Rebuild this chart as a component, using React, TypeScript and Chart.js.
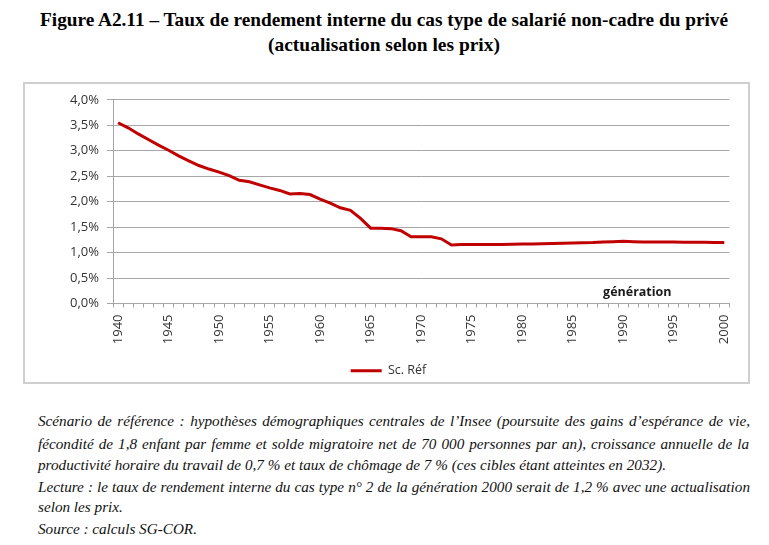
import React, { useEffect, useLayoutEffect, useRef, useState } from "react";
import { Chart, registerables } from "chart.js";

Chart.register(...registerables);

const years: string[] = [
  "1940","1941","1942","1943","1944","1945","1946","1947","1948","1949",
  "1950","1951","1952","1953","1954","1955","1956","1957","1958","1959",
  "1960","1961","1962","1963","1964","1965","1966","1967","1968","1969",
  "1970","1971","1972","1973","1974","1975","1976","1977","1978","1979",
  "1980","1981","1982","1983","1984","1985","1986","1987","1988","1989",
  "1990","1991","1992","1993","1994","1995","1996","1997","1998","1999",
  "2000",
];

const scRef: number[] = [
  3.55, 3.45, 3.33, 3.22, 3.11, 3.01, 2.90, 2.80, 2.71, 2.64,
  2.58, 2.51, 2.42, 2.39, 2.33, 2.27, 2.22, 2.15, 2.16, 2.14,
  2.05, 1.97, 1.88, 1.83, 1.67, 1.48, 1.48, 1.47, 1.43, 1.31,
  1.31, 1.31, 1.27, 1.15, 1.16, 1.16, 1.16, 1.16, 1.16, 1.165,
  1.17, 1.17, 1.175, 1.18, 1.185, 1.19, 1.195, 1.20, 1.21, 1.215,
  1.22, 1.215, 1.21, 1.21, 1.21, 1.21, 1.205, 1.205, 1.205, 1.20,
  1.20,
];

const seriesName = "Sc. Réf";
const axisTitle = "génération";

const titleLines = [
  "Figure A2.11 – Taux de rendement interne du cas type de salarié non-cadre du privé",
  "(actualisation selon les prix)",
];

const noteLines = [
  "Scénario de référence : hypothèses démographiques centrales de l’Insee (poursuite des gains d’espérance de vie,",
  "fécondité de 1,8 enfant par femme et solde migratoire net de 70 000 personnes par an), croissance annuelle de la",
  "productivité horaire du travail de 0,7 % et taux de chômage de 7 % (ces cibles étant atteintes en 2032).",
  "Lecture : le taux de rendement interne du cas type n° 2 de la génération 2000 serait de 1,2 % avec une actualisation",
  "selon les prix.",
  "Source : calculs SG-COR.",
];

type FitProps = {
  text: string;
  left: number;
  top: number;
  width: number;
  style: React.CSSProperties;
};

function FitLine({ text, left, top, width, style }: FitProps) {
  const ref = useRef<HTMLSpanElement>(null);
  const [scale, setScale] = useState(1);
  useLayoutEffect(() => {
    if (ref.current) {
      const w = ref.current.getBoundingClientRect().width;
      if (w > 0) setScale(width / w);
    }
  }, [text, width]);
  return (
    <span
      ref={ref}
      style={{
        position: "absolute",
        left,
        top,
        whiteSpace: "nowrap",
        transformOrigin: "0 0",
        transform: `scaleX(${scale})`,
        ...style,
      }}
    >
      {text}
    </span>
  );
}

function NoteBlock({ style }: { style: React.CSSProperties }) {
  const refs = useRef<(HTMLSpanElement | null)[]>([]);
  const left = 38;
  const tops = [412, 435, 456, 478, 498, 520];
  const targets = [712, 711, 0, 712, 0, 0];
  const refLine = 2;
  const refWidth = 628;
  const [layout, setLayout] = useState<{ s: number; ws: number[] }>({ s: 1, ws: [0, 0, 0, 0, 0, 0] });
  useLayoutEffect(() => {
    const nat = refs.current.map((el) => (el ? el.getBoundingClientRect().width : 0));
    const s = refWidth / nat[refLine];
    const ws = noteLines.map((t, i) => {
      if (!targets[i]) return 0;
      const spaces = (t.match(/ /g) || []).length;
      return (targets[i] / s - nat[i]) / spaces;
    });
    setLayout({ s, ws });
  }, []);
  return (
    <>
      {noteLines.map((t, i) => (
        <span
          key={i}
          ref={(el) => {
            refs.current[i] = el;
          }}
          style={{
            position: "absolute",
            left,
            top: tops[i],
            whiteSpace: "pre",
            transformOrigin: "0 0",
            transform: `scaleX(${layout.s})`,
            wordSpacing: layout.ws[i] ? `${layout.ws[i]}px` : undefined,
            ...style,
          }}
        >
          {t}
        </span>
      ))}
    </>
  );
}

const axisTitlePlugin = {
  id: "axisTitleInside",
  afterDraw(chart: any) {
    const { ctx, chartArea } = chart;
    ctx.save();
    ctx.font = 'bold 12.5px "Open Sans"';
    ctx.fillStyle = "#1a1a1a";
    ctx.textAlign = "center";
    ctx.textBaseline = "middle";
    ctx.fillText(axisTitle, chartArea.right - 92, chartArea.bottom - 11);
    ctx.restore();
  },
};

function LineChart() {
  const canvasRef = useRef<HTMLCanvasElement>(null);
  useEffect(() => {
    if (!canvasRef.current) return;
    Chart.defaults.font.family = '"Open Sans", sans-serif';
    const gridColor = "#a6a6a6";
    const chart = new Chart(canvasRef.current, {
      type: "line",
      data: {
        labels: years,
        datasets: [
          {
            label: seriesName,
            data: scRef,
            borderColor: "#c00000",
            backgroundColor: "#c00000",
            borderWidth: 3,
            pointRadius: 0,
            tension: 0,
          },
        ],
      },
      options: {
        animation: false,
        responsive: false,
        maintainAspectRatio: false,
        layout: { padding: { top: 14, right: 15, left: 20, bottom: 0 } },
        plugins: {
          tooltip: { enabled: false },
          legend: {
            position: "bottom",
            labels: {
              usePointStyle: true,
              pointStyle: "line",
              pointStyleWidth: 31,
              boxHeight: 12,
              color: "#333",
              font: { size: 12.5 },
              padding: 10,
            },
          },
        },
        scales: {
          x: {
            type: "category",
            offset: true,
            grid: {
              display: true,
              offset: true,
              drawOnChartArea: false,
              drawTicks: true,
              tickLength: 4,
              color: gridColor,
            },
            border: { color: gridColor, width: 1 },
            ticks: {
              autoSkip: false,
              maxRotation: 90,
              minRotation: 90,
              padding: 7,
              color: "#333",
              font: { size: 13 },
              callback: (_v: any, i: number) => (Number(years[i]) % 5 === 0 ? years[i] : ""),
            },
            afterFit: (s: any) => {
              s.height = 51;
            },
          },
          y: {
            min: 0,
            max: 4,
            grid: {
              color: gridColor,
              drawTicks: true,
              tickLength: 6,
            },
            border: { color: gridColor, width: 1 },
            ticks: {
              stepSize: 0.5,
              padding: 8,
              color: "#333",
              font: { size: 13 },
              callback: (v: any) => Number(v).toFixed(1).replace(".", ",") + "%",
            },
            afterFit: (s: any) => {
              s.width = 68;
            },
          },
        },
      },
      plugins: [axisTitlePlugin],
    } as any);
    return () => chart.destroy();
  }, []);
  return <canvas ref={canvasRef} width={722} height={303} style={{ display: "block" }} />;
}

export default function App() {
  const titleStyle: React.CSSProperties = {
    fontFamily: '"Liberation Serif", "Times New Roman", serif',
    fontWeight: "bold",
    fontSize: 19,
    lineHeight: "22px",
    color: "#000",
  };
  const noteStyle: React.CSSProperties = {
    fontFamily: '"Liberation Serif", "Times New Roman", serif',
    fontStyle: "italic",
    fontSize: 15.5,
    lineHeight: "18px",
    color: "#111",
  };
  return (
    <div
      style={{
        position: "absolute",
        left: 0,
        top: 0,
        width: 769,
        height: 545,
        background: "#fff",
        overflow: "hidden",
      }}
    >
      <FitLine text={titleLines[0]} left={40} top={9} width={688} style={titleStyle} />
      <FitLine text={titleLines[1]} left={268} top={34} width={232} style={titleStyle} />
      <div
        style={{
          position: "absolute",
          left: 23,
          top: 82,
          width: 727,
          height: 302,
          border: "2px solid #cfcfcf",
          boxSizing: "border-box",
        }}
      />
      <div style={{ position: "absolute", left: 25, top: 84, width: 722, height: 303 }}>
        <LineChart />
      </div>
      <NoteBlock style={noteStyle} />
    </div>
  );
}
